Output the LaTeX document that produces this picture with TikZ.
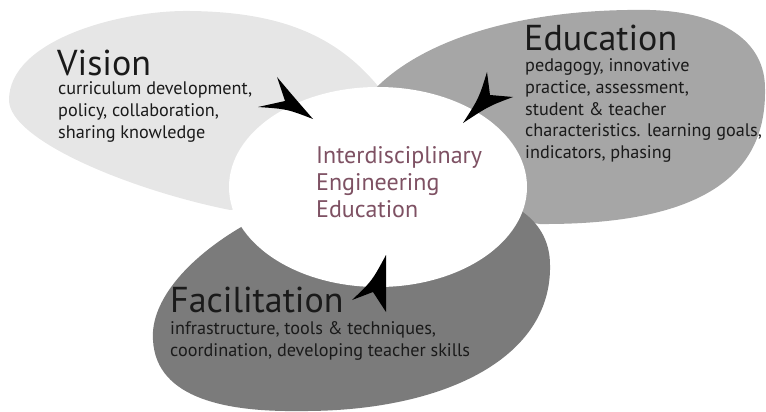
\documentclass[tikz,border=0pt]{standalone}
\usepackage{fontspec}
\setmainfont{PT Sans}
\usetikzlibrary{shapes.geometric}
\definecolor{visfill}{HTML}{E6E6E6}
\definecolor{edufill}{HTML}{A6A6A6}
\definecolor{facfill}{HTML}{7B7B7B}
\definecolor{centxt}{HTML}{7E5163}
\definecolor{txt}{HTML}{1A1A1A}
\begin{document}
\begin{tikzpicture}[x=1pt,y=-1pt,
  title/.style={anchor=base west, inner sep=0pt, text=txt, font=\fontsize{36}{40}\selectfont},
  body/.style={anchor=base west, inner sep=0pt, text=txt, font=\fontsize{18.2}{22}\selectfont},
  ctext/.style={anchor=base west, inner sep=0pt, text=centxt, font=\fontsize{24}{27}\selectfont},
  arrowhead/.style={fill=black}]
\useasboundingbox (0,0) rectangle (766,412);
% Vision region
\fill[visfill] (385,95) .. controls (340,35) and (280,12) .. (190,11)
  .. controls (120,10) and (9,40) .. (9,100)
  .. controls (9,140) and (130,190) .. (230,210)
  -- (300,200) -- cycle;
% Education region
\fill[edufill] (372,92) .. controls (420,40) and (520,8) .. (650,10)
  .. controls (720,12) and (766,40) .. (765,90)
  .. controls (766,170) and (710,225) .. (540,224)
  -- (480,215) -- (420,110) -- cycle;
% Facilitation region
\fill[facfill] (250,222) .. controls (190,255) and (150,300) .. (153,340)
  .. controls (156,400) and (230,412) .. (300,411)
  .. controls (440,412) and (552,360) .. (550,265)
  .. controls (550,240) and (538,222) .. (520,210)
  -- (450,200) -- (300,200) -- cycle;
% Centre ellipse
\node[ellipse, fill=white, minimum width=298pt, minimum height=200pt, inner sep=0pt] (centre) at (378,187) {};
% Arrowheads
\fill[arrowhead] (313,119) .. controls (293,96) .. (277,77) -- (285,101) -- (258,107) .. controls (287,109) .. cycle;
\fill[arrowhead] (463,123) .. controls (479,98) .. (487,72) -- (490,95) -- (513,97) .. controls (489,106) .. cycle;
\fill[arrowhead] (386,255) .. controls (372,281) .. (352,300) -- (373,292) -- (386,312) -- cycle;
% Texts
\node[title] (vt) at (57,75) {Vision};
\node[body] (vb1) at (58,95) {curriculum development,};
\node[body] (vb2) at (58,117) {policy, collaboration,};
\node[body] (vb3) at (58,139) {sharing knowledge};
\node[title] (et) at (524,51) {Education};
\node[body] (eb1) at (525,72) {pedagogy, innovative};
\node[body] (eb2) at (525,93.5) {practice, assessment,};
\node[body] (eb3) at (525,115) {student \& teacher};
\node[body] (eb4) at (525,136.5) {characteristics. learning goals,};
\node[body] (eb5) at (525,158) {indicators, phasing};
\node[title] (ft) at (170,312) {Facilitation};
\node[body] (fb1) at (170,334) {infrastructure, tools \& techniques,};
\node[body] (fb2) at (170,356) {coordination, developing teacher skills};
\node[ctext] (c1) at (316,163) {Interdisciplinary};
\node[ctext] (c2) at (316,190) {Engineering};
\node[ctext] (c3) at (316,217) {Education};
\end{tikzpicture}
\end{document}
